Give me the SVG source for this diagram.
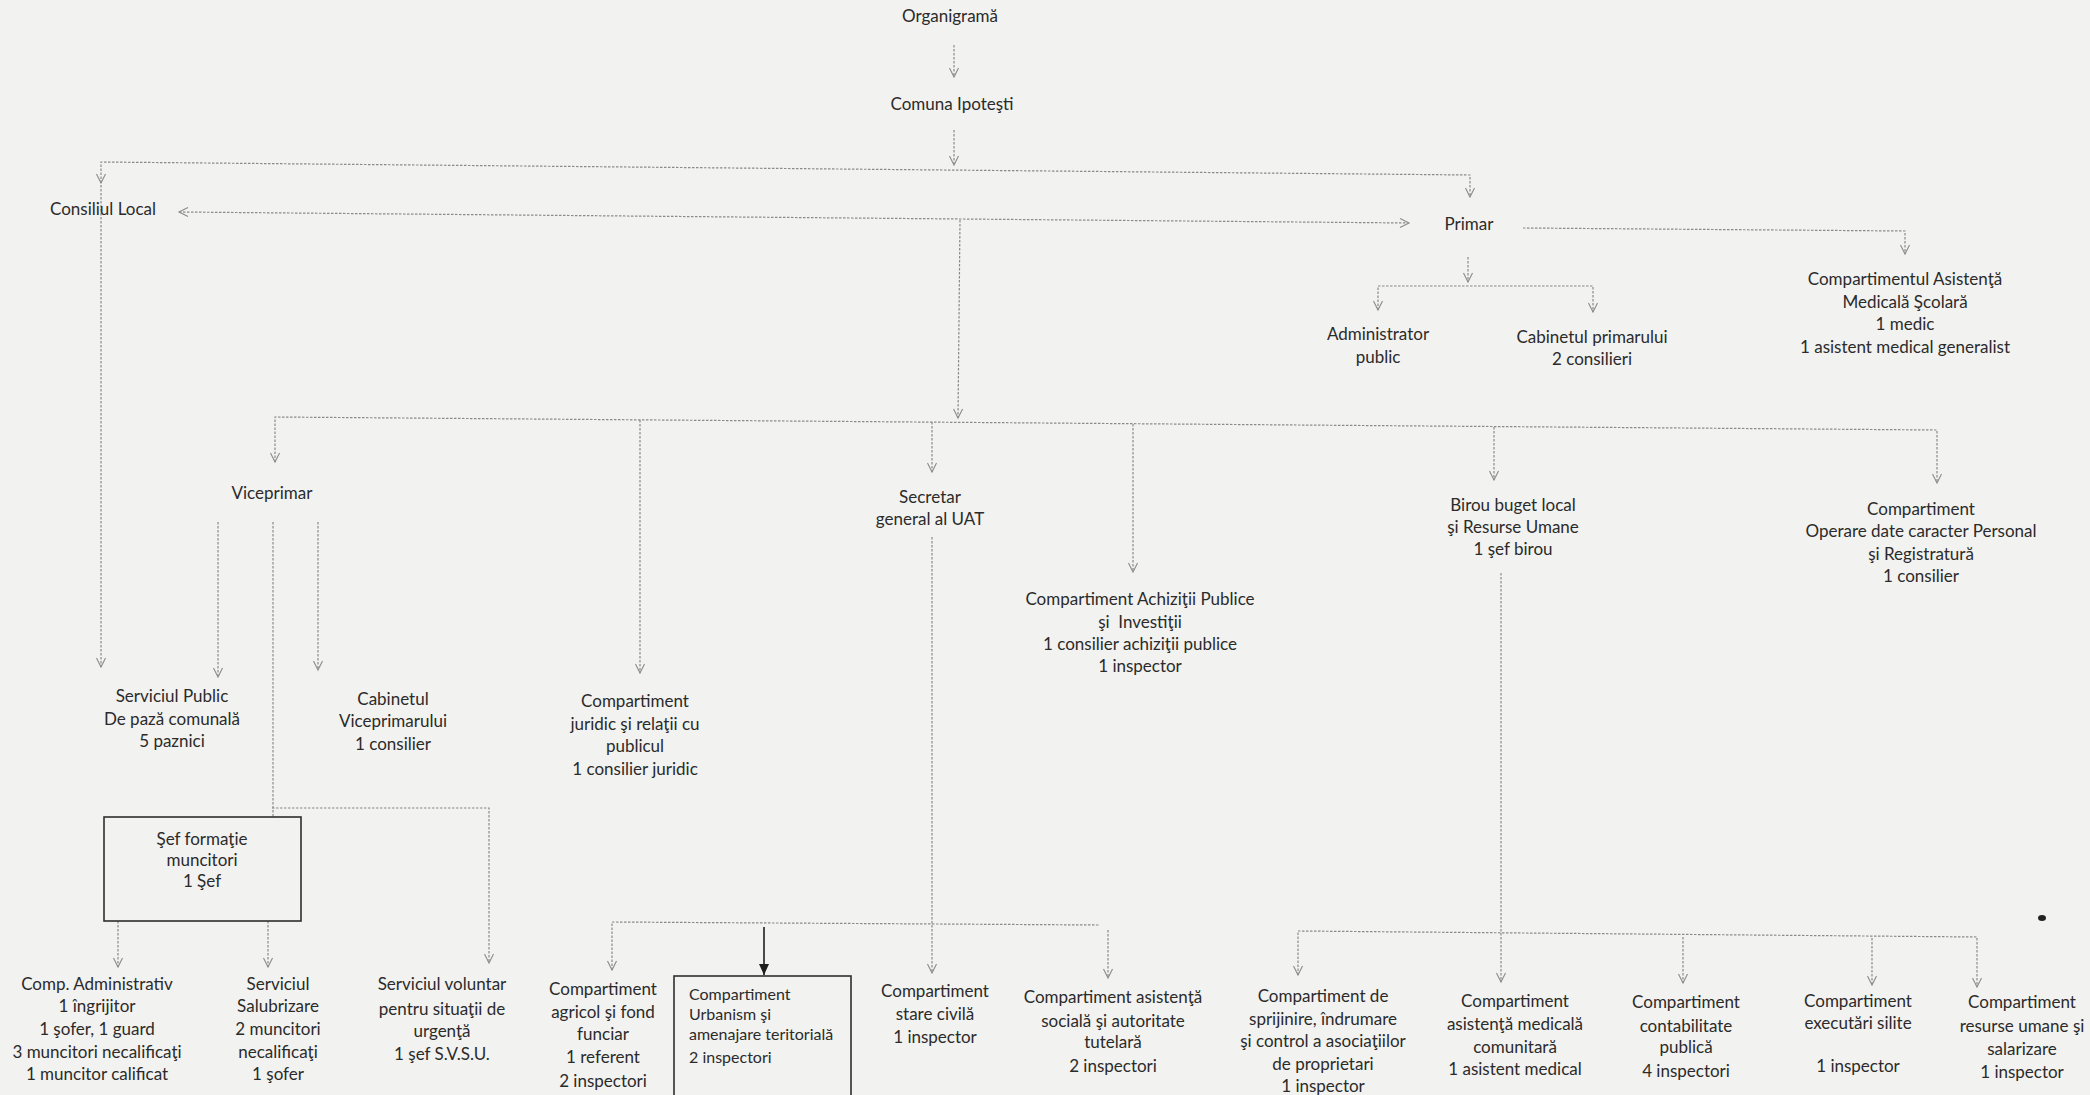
<svg xmlns="http://www.w3.org/2000/svg" width="2090" height="1095" viewBox="0 0 2090 1095">
<defs>
<style>
text{font-family:Lato,"Liberation Sans",sans-serif;font-size:17px;fill:#2b2b2b;text-anchor:middle}
.sm{font-size:16px;text-anchor:start}
.c{fill:none;stroke:#8a8a8a;stroke-width:1.2;stroke-dasharray:2.5 1.5}
.a{marker-end:url(#v)}
.st{marker-start:url(#v)}
.b{marker-start:url(#v);marker-end:url(#v)}
.box{fill:none;stroke:#2e2e2e;stroke-width:1.6}
</style>
<marker id="v" viewBox="-10 -6 12 12" refX="0" refY="0" markerWidth="12" markerHeight="12" markerUnits="userSpaceOnUse" orient="auto-start-reverse">
<path d="M-9,-4.5 L0,0 L-9,4.5" fill="none" stroke="#8a8a8a" stroke-width="1.1"/>
</marker>
<marker id="s" viewBox="-12 -6 14 12" refX="0" refY="0" markerWidth="14" markerHeight="12" markerUnits="userSpaceOnUse" orient="auto">
<path d="M-11,-5 L0,0 L-11,5 Z" fill="#1e1e1e"/>
</marker>
</defs>
<rect width="2090" height="1095" fill="#f2f2f0"/>

<g id="connectors">
<path class="c a" d="M954,45 V77"/>
<path class="c a" d="M954,130 V165"/>
<path class="c b" d="M101,183 V162 L1470,175 V197"/>
<path class="c a" d="M101,185 V667"/>
<path class="c b" d="M179,212 L1409,223"/>
<path class="c a" d="M960,220 L958,418"/>
<path class="c a" d="M1523,228 L1905,231 V254"/>
<path class="c a" d="M1468,257 V282"/>
<path class="c b" d="M1378,310 V286 H1593 V312"/>
<path class="c b" d="M275,462 V417 L1937,430 V483"/>
<path class="c a" d="M640,420 V673"/>
<path class="c a" d="M932,422 V472"/>
<path class="c a" d="M1133,424 V572"/>
<path class="c a" d="M1494,427 V480"/>
<path class="c a" d="M218,522 V677"/>
<path class="c a" d="M318,522 V670"/>
<path class="c" d="M273,522 V817"/>
<path class="c a" d="M272,808 H489 V963"/>
<path class="c a" d="M118,921 V967"/>
<path class="c a" d="M268,921 V967"/>
<path class="c a" d="M932,537 V973"/>
<path class="c st" d="M612,970 V922 L1100,925"/>
<path class="c a" d="M1108,930 V978"/>
<path d="M764,927 V975" stroke="#1e1e1e" stroke-width="1.6" fill="none" marker-end="url(#s)"/>
<path class="c a" d="M1501,573 V982"/>
<path class="c b" d="M1298,975 V931 L1977,937 V987"/>
<path class="c a" d="M1683,937 V983"/>
<path class="c a" d="M1872,938 V985"/>
</g>

<g id="n-organigrama"><text x="950" y="22">Organigramă</text></g>
<g id="n-comuna"><text x="952" y="110">Comuna Ipoteşti</text></g>
<g id="n-consiliul"><text x="103" y="215">Consiliul Local</text></g>
<g id="n-primar"><text x="1469" y="230">Primar</text></g>
<g id="n-asist-scolara"><text x="1905" y="285">Compartimentul Asistenţă</text><text x="1905" y="308">Medicală Şcolară</text><text x="1905" y="330">1 medic</text><text x="1905" y="353">1 asistent medical generalist</text></g>
<g id="n-administrator"><text x="1378" y="340">Administrator</text><text x="1378" y="363">public</text></g>
<g id="n-cabinet-primar"><text x="1592" y="343">Cabinetul primarului</text><text x="1592" y="365">2 consilieri</text></g>
<g id="n-viceprimar"><text x="272" y="499">Viceprimar</text></g>
<g id="n-secretar"><text x="930" y="503">Secretar</text><text x="930" y="525">general al UAT</text></g>
<g id="n-birou"><text x="1513" y="511">Birou buget local</text><text x="1513" y="533">şi Resurse Umane</text><text x="1513" y="555">1 şef birou</text></g>
<g id="n-operare"><text x="1921" y="515">Compartiment</text><text x="1921" y="537">Operare date caracter Personal</text><text x="1921" y="560">şi Registratură</text><text x="1921" y="582">1 consilier</text></g>
<g id="n-achizitii"><text x="1140" y="605">Compartiment Achiziţii Publice</text><text x="1140" y="628" xml:space="preserve">şi  Investiţii</text><text x="1140" y="650">1 consilier achiziţii publice</text><text x="1140" y="672">1 inspector</text></g>
<g id="n-paza"><text x="172" y="702">Serviciul Public</text><text x="172" y="725">De pază comunală</text><text x="172" y="747">5 paznici</text></g>
<g id="n-cabinet-vice"><text x="393" y="705">Cabinetul</text><text x="393" y="727">Viceprimarului</text><text x="393" y="750">1 consilier</text></g>
<g id="n-juridic"><text x="635" y="707">Compartiment</text><text x="635" y="730">juridic şi relaţii cu</text><text x="635" y="752">publicul</text><text x="635" y="775">1 consilier juridic</text></g>
<g id="n-sef-formatie"><rect class="box" x="104" y="817" width="197" height="104"/><text x="202" y="845">Şef formaţie</text><text x="202" y="866">muncitori</text><text x="202" y="887">1 Şef</text></g>
<g id="n-comp-admin"><text x="97" y="990">Comp. Administrativ</text><text x="97" y="1012">1 îngrijitor</text><text x="97" y="1035">1 şofer, 1 guard</text><text x="97" y="1058">3 muncitori necalificaţi</text><text x="97" y="1080">1 muncitor calificat</text></g>
<g id="n-salubrizare"><text x="278" y="990">Serviciul</text><text x="278" y="1012">Salubrizare</text><text x="278" y="1035">2 muncitori</text><text x="278" y="1058">necalificaţi</text><text x="278" y="1080">1 şofer</text></g>
<g id="n-svsu"><text x="442" y="990">Serviciul voluntar</text><text x="442" y="1015">pentru situaţii de</text><text x="442" y="1037">urgenţă</text><text x="442" y="1060">1 şef S.V.S.U.</text></g>
<g id="n-agricol"><text x="603" y="995">Compartiment</text><text x="603" y="1018">agricol şi fond</text><text x="603" y="1040">funciar</text><text x="603" y="1063">1 referent</text><text x="603" y="1087">2 inspectori</text></g>
<g id="n-urbanism"><rect class="box" x="674" y="976" width="177" height="130"/><text class="sm" x="689" y="1000">Compartiment</text><text class="sm" x="689" y="1020">Urbanism şi</text><text class="sm" x="689" y="1040">amenajare teritorială</text><text class="sm" x="689" y="1063">2 inspectori</text></g>
<g id="n-stare-civila"><text x="935" y="997">Compartiment</text><text x="935" y="1020">stare civilă</text><text x="935" y="1043">1 inspector</text></g>
<g id="n-asist-sociala"><text x="1113" y="1003">Compartiment asistenţă</text><text x="1113" y="1027">socială şi autoritate</text><text x="1113" y="1048">tutelară</text><text x="1113" y="1072">2 inspectori</text></g>
<g id="n-sprijinire"><text x="1323" y="1002">Compartiment de</text><text x="1323" y="1025">sprijinire, îndrumare</text><text x="1323" y="1047">şi control a asociaţiilor</text><text x="1323" y="1070">de proprietari</text><text x="1323" y="1092">1 inspector</text></g>
<g id="n-asist-medicala"><text x="1515" y="1007">Compartiment</text><text x="1515" y="1030">asistenţă medicală</text><text x="1515" y="1053">comunitară</text><text x="1515" y="1075">1 asistent medical</text></g>
<g id="n-contabilitate"><text x="1686" y="1008">Compartiment</text><text x="1686" y="1032">contabilitate</text><text x="1686" y="1053">publică</text><text x="1686" y="1077">4 inspectori</text></g>
<g id="n-executari"><text x="1858" y="1007">Compartiment</text><text x="1858" y="1029">executări silite</text><text x="1858" y="1072">1 inspector</text></g>
<g id="n-resurse-umane"><text x="2022" y="1008">Compartiment</text><text x="2022" y="1032">resurse umane şi</text><text x="2022" y="1055">salarizare</text><text x="2022" y="1078">1 inspector</text></g>
<ellipse cx="2042" cy="918" rx="4" ry="3" fill="#222"/>
</svg>
